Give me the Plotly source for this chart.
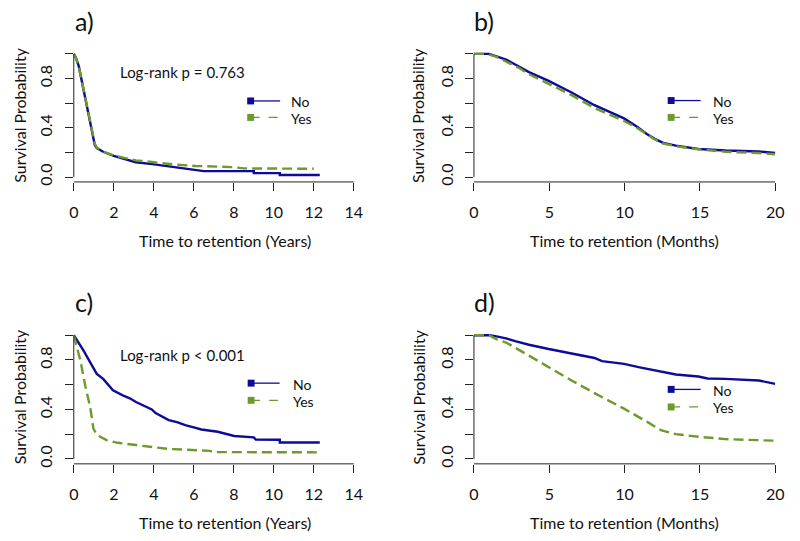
import plotly.graph_objects as go

# ---------------- data ----------------
# Panel a (years)
a_no_t = [0, 0.1, 0.25, 0.4, 0.55, 0.65, 0.8, 0.95, 1.05, 1.15, 1.47, 2.0, 2.5, 3.1, 3.93, 4.5, 5.08, 5.5, 6.1, 6.5, 9.0, 9.0, 10.3, 10.3, 12.3]
a_no_s = [1.0, 0.97, 0.9, 0.78, 0.65, 0.577, 0.45, 0.32, 0.26, 0.235, 0.205, 0.172, 0.15, 0.12, 0.105, 0.092, 0.08, 0.068, 0.059, 0.048, 0.048, 0.032, 0.032, 0.016, 0.016]
a_yes_t = [0, 0.1, 0.25, 0.4, 0.55, 0.65, 0.8, 0.95, 1.05, 1.15, 1.47, 2.0, 2.5, 3.1, 3.9, 4.5, 5.1, 6.1, 7.0, 8.0, 8.5, 12.0]
a_yes_s = [1.0, 0.97, 0.9, 0.78, 0.66, 0.585, 0.46, 0.33, 0.27, 0.24, 0.205, 0.175, 0.158, 0.135, 0.122, 0.11, 0.1, 0.09, 0.085, 0.08, 0.07, 0.067]

# Panel b (months)
b_no_t = [0, 1.0, 1.5, 2.13, 2.8, 3.65, 4.96, 6.48, 8.0, 9.96, 10.8, 11.47, 12.0, 12.56, 13.4, 14.9, 16.7, 18.9, 20]
b_no_s = [1.0, 1.0, 0.98, 0.954, 0.91, 0.852, 0.78, 0.686, 0.583, 0.476, 0.41, 0.35, 0.31, 0.277, 0.255, 0.228, 0.215, 0.207, 0.196]
b_yes_t = [0, 0.8, 1.5, 2.13, 3.0, 3.65, 4.96, 6.48, 8.0, 9.96, 10.8, 11.47, 12.0, 12.56, 13.4, 14.9, 16.7, 18.9, 20]
b_yes_s = [1.0, 1.0, 0.975, 0.94, 0.885, 0.835, 0.755, 0.665, 0.56, 0.455, 0.4, 0.345, 0.305, 0.272, 0.25, 0.225, 0.205, 0.195, 0.185]

# Panel c (years)
c_no_t = [0, 0.2, 0.49, 0.75, 0.98, 1.15, 1.47, 1.7, 1.96, 2.45, 2.8, 3.11, 3.6, 3.9, 4.09, 4.4, 4.75, 5.2, 5.57, 6.0, 6.38, 7.2, 7.6, 8.02, 9.0, 9.1, 10.3, 10.3, 12.3]
c_no_s = [1.0, 0.95, 0.875, 0.8, 0.74, 0.687, 0.647, 0.6, 0.554, 0.514, 0.49, 0.46, 0.42, 0.4, 0.37, 0.34, 0.313, 0.295, 0.273, 0.255, 0.238, 0.219, 0.2, 0.185, 0.174, 0.157, 0.155, 0.133, 0.133]
c_yes_t = [0, 0.03, 0.33, 0.57, 0.82, 0.98, 1.15, 1.64, 2.2, 3.1, 4.0, 4.75, 6.2, 6.8, 7.0, 12.3]
c_yes_s = [1.0, 0.98, 0.795, 0.594, 0.42, 0.246, 0.193, 0.152, 0.13, 0.112, 0.095, 0.08, 0.07, 0.065, 0.055, 0.053]

# Panel d (months)
d_no_t = [0, 1.04, 1.5, 2.13, 2.8, 3.65, 4.96, 6.48, 8.0, 8.5, 9.96, 11.0, 11.5, 12.5, 13.4, 14.9, 15.5, 16.7, 18.9, 20]
d_no_s = [1.0, 1.0, 0.99, 0.974, 0.95, 0.923, 0.888, 0.853, 0.816, 0.79, 0.768, 0.74, 0.727, 0.7, 0.682, 0.666, 0.65, 0.647, 0.634, 0.607]
d_yes_t = [0, 1.0, 1.48, 2.13, 3.65, 4.96, 6.48, 8.0, 9.96, 11.5, 12.4, 13.4, 14.9, 16.7, 18.9, 20]
d_yes_s = [1.0, 1.0, 0.968, 0.941, 0.835, 0.741, 0.634, 0.532, 0.406, 0.299, 0.233, 0.2, 0.179, 0.16, 0.152, 0.147]

panel_labels = ["a)", "b)", "c)", "d)"]
pvalue_texts = ["Log-rank p = 0.763", None, "Log-rank p < 0.001", None]
x_titles = ["Time to retention (Years)", "Time to retention (Months)",
            "Time to retention (Years)", "Time to retention (Months)"]
y_title = "Survival Probability"
legend_labels = ["No", "Yes"]
years_ticks = [0, 2, 4, 6, 8, 10, 12, 14]
months_ticks = [0, 5, 10, 15, 20]
y_ticks = [0, 0.2, 0.4, 0.6, 0.8, 1.0]
y_ticktext = ["0.0", "", "0.4", "", "0.8", ""]

# ---------------- style ----------------
W, H = 800, 541
BLUE = "#0c0c98"
GREEN = "#6e9a2c"
FONT = "Lato"
TXT = "#111111"

def px(x):
    return x / W

def py(y):
    return 1 - y / H

panels = [
    dict(t=(a_no_t, a_yes_t), s=(a_no_s, a_yes_s), xd=(70, 378), yd=(49.3, 183.3), xr=[0, 15.13], ticks=years_ticks),
    dict(t=(b_no_t, b_yes_t), s=(b_no_s, b_yes_s), xd=(477.3, 784), yd=(49.3, 183.3), xr=[0, 20], ticks=months_ticks),
    dict(t=(c_no_t, c_yes_t), s=(c_no_s, c_yes_s), xd=(70, 378), yd=(332.7, 467.3), xr=[0, 15.13], ticks=years_ticks),
    dict(t=(d_no_t, d_yes_t), s=(d_no_s, d_yes_s), xd=(477.3, 784), yd=(332.7, 467.3), xr=[0, 20], ticks=months_ticks),
]

# label positions in pixels
panel_label_pos = [(81, 21), (488, 21), (80, 304), (488, 304)]
pvalue_pos = [(115, 72.7), None, (115, 357.3), None]
legend_pos = [  # (square center x, No y, Yes y, line end x, text x)
    (250, 101.7, 118.3, 280, 290),
    (678, 101.3, 118.3, 708, 720),
    (250.5, 386, 403.3, 279.5, 292),
    (678, 392.3, 410, 708, 720),
]
xtitle_y = [242, 242, 526, 526]
ytitle_x = [14.5, 420, 14.5, 420]

fig = go.Figure()
layout = dict(width=W, height=H, margin=dict(l=0, r=0, t=0, b=0),
              paper_bgcolor="white", plot_bgcolor="white", showlegend=False,
              font=dict(family=FONT, color=TXT, size=15))
shapes = []
annotations = []

for i, p in enumerate(panels):
    k = "" if i == 0 else str(i + 1)
    xa, ya = "x" + k, "y" + k
    for j, (col, dash) in enumerate([(BLUE, "solid"), (GREEN, "10px,5px")]):
        fig.add_trace(go.Scatter(x=p["t"][j], y=p["s"][j], mode="lines",
                                 line=dict(color=col, width=2.4, dash=dash),
                                 xaxis=xa, yaxis=ya, name=legend_labels[j]))
    layout["xaxis" + k] = dict(domain=[px(p["xd"][0]), px(p["xd"][1])], range=p["xr"],
                               anchor=ya, showgrid=False, zeroline=False, showline=False,
                               tickmode="array", tickvals=p["ticks"],
                               ticks="outside", ticklen=8, tickwidth=1, tickcolor="#222",
                               ticklabelstandoff=8,
                               tickfont=dict(family=FONT, size=16, color=TXT))
    layout["yaxis" + k] = dict(domain=[py(p["yd"][1]), py(p["yd"][0])], range=[-0.04, 1.04],
                               anchor=xa, showgrid=False, zeroline=False, showline=False,
                               tickmode="array", tickvals=y_ticks, ticktext=y_ticktext,
                               ticks="outside", ticklen=8, tickwidth=1, tickcolor="#222",
                               tickangle=-90, ticklabelstandoff=6,
                               tickfont=dict(family=FONT, size=16, color=TXT))
    # R-style axis lines spanning first to last tick
    shapes.append(dict(type="line", xref=xa, yref=ya + " domain", x0=p["ticks"][0], x1=p["ticks"][-1],
                       y0=0, y1=0, line=dict(color="#222", width=1)))
    shapes.append(dict(type="line", xref=xa + " domain", yref=ya, x0=0, x1=0,
                       y0=y_ticks[0], y1=y_ticks[-1], line=dict(color="#222", width=1)))
    # panel label
    lx, ly = panel_label_pos[i]
    annotations.append(dict(text=panel_labels[i], x=px(lx), y=py(ly), xref="paper", yref="paper",
                            xanchor="center", yanchor="middle", showarrow=False,
                            font=dict(family=FONT, size=25, color=TXT)))
    if pvalue_texts[i]:
        tx, ty = pvalue_pos[i]
        annotations.append(dict(text=pvalue_texts[i], x=px(tx), y=py(ty), xref="paper", yref="paper",
                                xanchor="left", yanchor="middle", showarrow=False,
                                font=dict(family=FONT, size=15, color=TXT)))
    # axis titles
    annotations.append(dict(text=x_titles[i], x=px((p["xd"][0] + p["xd"][1]) / 2), y=py(xtitle_y[i]),
                            xref="paper", yref="paper", xanchor="center", yanchor="middle",
                            showarrow=False, font=dict(family=FONT, size=16, color=TXT)))
    annotations.append(dict(text=y_title, x=px(ytitle_x[i]), y=py((p["yd"][0] + p["yd"][1]) / 2),
                            xref="paper", yref="paper", xanchor="center", yanchor="middle",
                            textangle=-90, showarrow=False, font=dict(family=FONT, size=16, color=TXT)))
    # legend (R style: square + line)
    sx, yno, yyes, lend, textx = legend_pos[i]
    for yy, col, dash, lab in [(yno, BLUE, "solid", legend_labels[0]), (yyes, GREEN, "dash", legend_labels[1])]:
        shapes.append(dict(type="line", xref="paper", yref="paper", x0=px(sx), x1=px(lend),
                           y0=py(yy), y1=py(yy), line=dict(color=col, width=1.3, dash=dash)))
        shapes.append(dict(type="rect", xref="paper", yref="paper", x0=px(sx - 3.5), x1=px(sx + 3.5),
                           y0=py(yy + 3.5), y1=py(yy - 3.5), fillcolor=col, line=dict(width=0)))
        annotations.append(dict(text=lab, x=px(textx), y=py(yy + 1), xref="paper", yref="paper",
                                xanchor="left", yanchor="middle", showarrow=False, borderpad=0,
                                font=dict(family=FONT, size=14, color=TXT)))

layout["shapes"] = shapes
layout["annotations"] = annotations
fig.update_layout(**layout)
fig.write_html("out.html", config={"displayModeBar": False},
               post_script="document.body.style.margin='0';")
